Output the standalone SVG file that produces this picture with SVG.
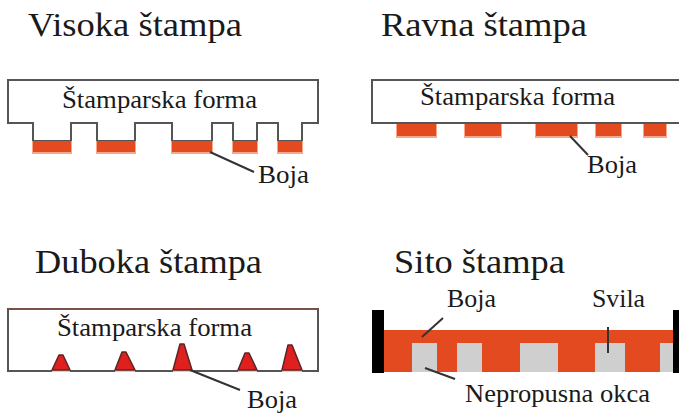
<svg xmlns="http://www.w3.org/2000/svg" width="679" height="415" viewBox="0 0 679 415">
<style>
text{font-family:"Liberation Serif","DejaVu Serif",serif;fill:#1a1a1a}
.title{font-size:34px}
.lbl{font-size:25px}
.frame{fill:#fff;stroke:#555;stroke-width:2}
.ink{fill:#e34a20}
.inkfade{fill:#f6a98a}
.tri{fill:#e01f1f;stroke:#5a2626;stroke-width:1.5;stroke-linejoin:round}
.mesh{fill:#cfcfcf}
.lead{stroke:#333;stroke-width:2;fill:none}
</style>
<rect width="679" height="415" fill="#fff"/>

<g id="visoka">
<text class="title" x="28" y="36" textLength="214" lengthAdjust="spacingAndGlyphs">Visoka štampa</text>
<path class="frame" d="M8,80 H318 V123 H302 V141 H278 V123 H257 V141 H233 V123 H212 V141 H172 V123 H135 V141 H97 V123 H71 V141 H33 V123 H8 Z"/>
<g>
<rect class="inkfade" x="32" y="141" width="40" height="13"/>
<rect class="ink" x="33" y="141" width="38" height="11"/>
<rect class="inkfade" x="96" y="141" width="40" height="13"/>
<rect class="ink" x="97" y="141" width="38" height="11"/>
<rect class="inkfade" x="171" y="141" width="42" height="13"/>
<rect class="ink" x="172" y="141" width="40" height="11"/>
<rect class="inkfade" x="232" y="141" width="26" height="13"/>
<rect class="ink" x="233" y="141" width="24" height="11"/>
<rect class="inkfade" x="277" y="141" width="26" height="13"/>
<rect class="ink" x="278" y="141" width="24" height="11"/>
</g>
<text class="lbl" x="62" y="108" textLength="195" lengthAdjust="spacingAndGlyphs">Štamparska forma</text>
<text class="lbl" x="258" y="183" textLength="51" lengthAdjust="spacingAndGlyphs">Boja</text>
</g>

<g id="ravna">
<text class="title" x="381" y="36" textLength="206" lengthAdjust="spacingAndGlyphs">Ravna štampa</text>
<rect class="frame" x="372" y="80" width="320" height="43"/>
<g>
<rect class="inkfade" x="396" y="124" width="41" height="14"/>
<rect class="ink" x="397" y="124" width="39" height="12"/>
<rect class="inkfade" x="464" y="124" width="38" height="14"/>
<rect class="ink" x="465" y="124" width="36" height="12"/>
<rect class="inkfade" x="535" y="124" width="43" height="14"/>
<rect class="ink" x="536" y="124" width="41" height="12"/>
<rect class="inkfade" x="595" y="124" width="27" height="14"/>
<rect class="ink" x="596" y="124" width="25" height="12"/>
<rect class="inkfade" x="643" y="124" width="24" height="14"/>
<rect class="ink" x="644" y="124" width="22" height="12"/>
</g>
<text class="lbl" x="420" y="105" textLength="195" lengthAdjust="spacingAndGlyphs">Štamparska forma</text>
<text class="lbl" x="587" y="173" textLength="50" lengthAdjust="spacingAndGlyphs">Boja</text>
</g>

<g id="duboka">
<text class="title" x="35" y="273" textLength="227" lengthAdjust="spacingAndGlyphs">Duboka štampa</text>
<rect class="frame" x="8" y="309" width="310" height="62"/>
<line x1="8" y1="309" x2="318" y2="309" stroke="#7a5048" stroke-width="2"/>
<g>
<rect x="52" y="369" width="18" height="3" fill="#f7c0b0"/>
<polygon class="tri" points="52,370 59,355 63,355 70,370"/>
<rect x="115" y="369" width="20" height="3" fill="#f7c0b0"/>
<polygon class="tri" points="115,370 122,352 126,352 135,370"/>
<rect x="173" y="369" width="19" height="3" fill="#f7c0b0"/>
<polygon class="tri" points="173,370 180,344 184,344 192,370"/>
<rect x="238" y="369" width="19" height="3" fill="#f7c0b0"/>
<polygon class="tri" points="238,370 245,353 249,353 257,370"/>
<rect x="282" y="369" width="20" height="3" fill="#f7c0b0"/>
<polygon class="tri" points="282,370 288,345 292,345 302,370"/>
</g>
<text class="lbl" x="57" y="336" textLength="195" lengthAdjust="spacingAndGlyphs">Štamparska forma</text>
<text class="lbl" x="247" y="408" textLength="50" lengthAdjust="spacingAndGlyphs">Boja</text>
</g>

<g id="sito">
<text class="title" x="394" y="273" textLength="171" lengthAdjust="spacingAndGlyphs">Sito štampa</text>
<rect class="ink" x="384" y="330" width="290" height="42"/>
<g>
<rect class="mesh" x="412" y="343" width="25" height="29"/>
<rect class="mesh" x="457" y="343" width="25" height="29"/>
<rect class="mesh" x="520" y="343" width="38" height="29"/>
<rect class="mesh" x="595" y="343" width="30" height="29"/>
<rect class="mesh" x="660" y="343" width="13" height="29"/>
</g>
<rect x="372" y="310" width="12" height="63" fill="#000"/>
<rect x="673" y="310" width="6" height="63" fill="#000"/>
<text class="lbl" x="447" y="307" textLength="49" lengthAdjust="spacingAndGlyphs">Boja</text>
<text class="lbl" x="592" y="307" textLength="53" lengthAdjust="spacingAndGlyphs">Svila</text>
<text class="lbl" x="465" y="402" textLength="185" lengthAdjust="spacingAndGlyphs">Nepropusna okca</text>
</g>

<g id="connectors">
<line class="lead" x1="210" y1="152" x2="254" y2="172"/>
<line class="lead" x1="570" y1="136" x2="588" y2="155"/>
<line class="lead" x1="190" y1="370" x2="240" y2="390"/>
<line class="lead" x1="422" y1="337" x2="443" y2="318"/>
<line class="lead" x1="608" y1="327" x2="608" y2="353"/>
<line class="lead" x1="425" y1="368" x2="455" y2="379"/>
</g>
</svg>
